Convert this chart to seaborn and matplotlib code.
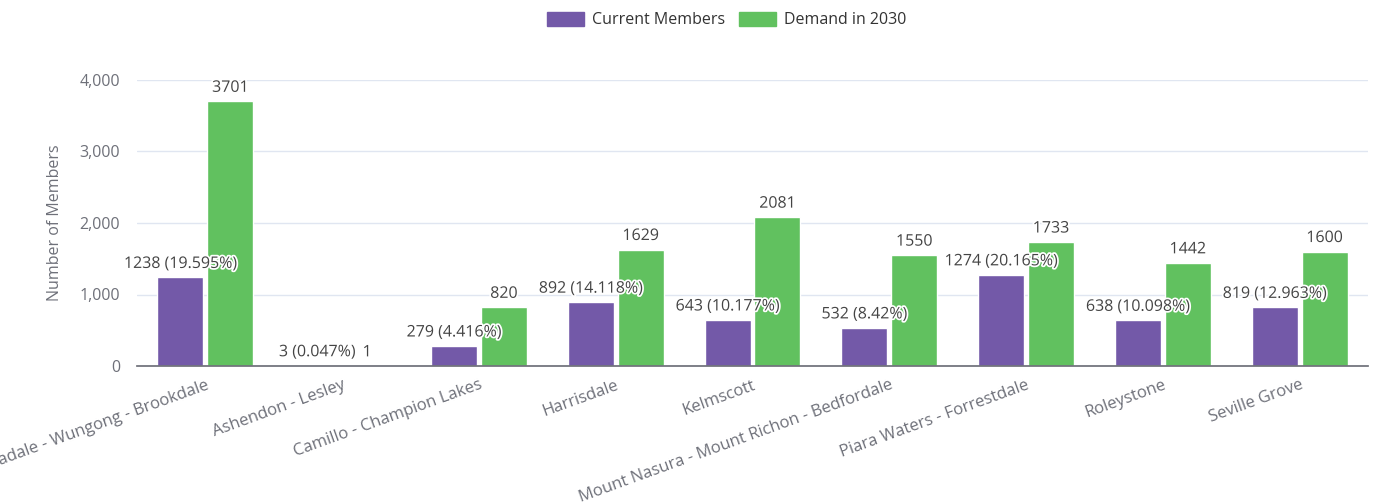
import numpy as np
import pandas as pd
import matplotlib
matplotlib.use('Agg')
import matplotlib.pyplot as plt
import matplotlib.patheffects as pe
import seaborn as sns

# data
regions = ['Armadale - Wungong - Brookdale', 'Ashendon - Lesley', 'Camillo - Champion Lakes',
           'Harrisdale', 'Kelmscott', 'Mount Nasura - Mount Richon - Bedfordale',
           'Piara Waters - Forrestdale', 'Roleystone', 'Seville Grove']
current_members = [1238, 3, 279, 892, 643, 532, 1274, 638, 819]
demand_2030 = [3701, 1, 820, 1629, 2081, 1550, 1733, 1442, 1600]

series = ['Current Members', 'Demand in 2030']
colors = ['#7359a8', '#61c15f']

df = pd.DataFrame({
    'Region': regions * 2,
    'Members': current_members + demand_2030,
    'Series': [series[0]] * len(regions) + [series[1]] * len(regions),
})

sns.set_theme(style='white')
plt.rcParams['font.family'] = ['Open Sans', 'DejaVu Sans']

W, H = 1379, 503
fig = plt.figure(figsize=(W / 100, H / 100), dpi=100)
ax = fig.add_axes([137 / W, 1 - 366 / H, (1368 - 137) / W, (366 - 80) / H])

sns.barplot(data=df, x='Region', y='Members', hue='Series', palette=colors,
            width=0.73, gap=0.08, ax=ax, legend=False, saturation=1)

ax.set_xlim(-0.5, len(regions) - 0.5)
ax.set_ylim(0, 4000)
ax.set_yticks([0, 1000, 2000, 3000, 4000])
ax.set_yticklabels(['0', '1,000', '2,000', '3,000', '4,000'])
ax.yaxis.grid(True, color='#e0e6f1', linewidth=1)
ax.set_axisbelow(True)
for s in ['top', 'right', 'left']:
    ax.spines[s].set_visible(False)
ax.spines['bottom'].set_color('#6e7079')
ax.tick_params(axis='y', length=0, labelsize=11.5, labelcolor='#6e7079', pad=12)

# ticks at band edges, labels at centres
ax.set_xticks(np.arange(len(regions)))
ax.set_xticks(np.arange(-0.5, len(regions)), minor=True)
ax.tick_params(axis='x', which='major', length=0, pad=8)
ax.tick_params(axis='x', which='minor', length=5, color='#6e7079', width=1, direction='out')
ax.set_xticklabels(regions, rotation=20, ha='right', rotation_mode='anchor',
                   fontsize=12, color='#6e7079')
ax.set_xlabel('')
ax.set_ylabel('Number of Members', fontsize=11.5, color='#6e7079', labelpad=12)

# value labels
total = sum(current_members)
outline = [pe.withStroke(linewidth=2.5, foreground='white')]
for bar, v in zip(ax.containers[0], current_members):
    pct = round(v / total * 100, 3)
    x = bar.get_x() + bar.get_width() / 2
    ax.annotate(f'{v} ({pct:g}%)', (x, bar.get_height()), xytext=(0, 4),
                textcoords='offset points', ha='center', va='bottom',
                fontsize=11.5, color='#444444', path_effects=outline, clip_on=False)
for bar, v in zip(ax.containers[1], demand_2030):
    x = bar.get_x() + bar.get_width() / 2
    ax.annotate(f'{v}', (x, bar.get_height()), xytext=(0, 4),
                textcoords='offset points', ha='center', va='bottom',
                fontsize=11.5, color='#444444', path_effects=outline, clip_on=False)

# legend on top
handles = [plt.Rectangle((0, 0), 1, 1, color=c) for c in colors]
fig.legend(handles, series, loc='upper center', bbox_to_anchor=(0.527, 1.005), ncol=2,
           frameon=False, fontsize=11.5, handlelength=2.3, handleheight=1.0,
           columnspacing=0.9, handletextpad=0.5, labelcolor='#333333')

fig.savefig('out.png', dpi=100)
